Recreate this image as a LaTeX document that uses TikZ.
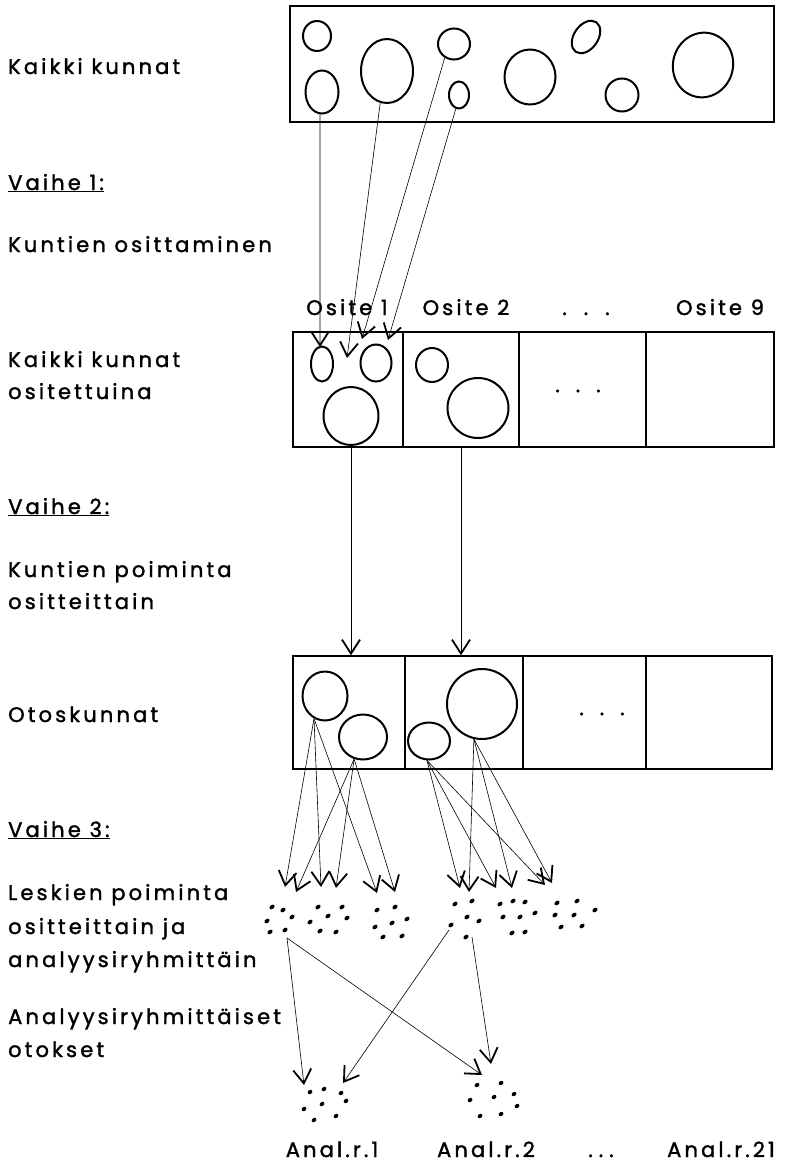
\documentclass[tikz,border=0pt]{standalone}
\usepackage{fontspec}
\setmainfont{Poppins}[LetterSpace=15,FakeBold=1.6]
\usetikzlibrary{shapes.geometric,arrows.meta}

\tikzset{
  kunta/.style={draw, ellipse, line width=2pt, inner sep=0pt},
  lokero/.style={draw, rectangle, line width=1.4pt, inner sep=0pt},
  nuoli/.style={line width=0.6pt, -{Straight Barb[length=14pt,width=18pt,line width=1.8pt]}},
  teksti/.style={anchor=base west, inner sep=0pt},
  otsikko/.style={anchor=base, inner sep=0pt},
}
\newcommand{\pisteet}[1]{.\hspace{#1}.\hspace{#1}.}

\begin{document}
\begin{tikzpicture}[x=1pt,y=-1pt,font=\fontsize{21}{33}\selectfont]
\useasboundingbox (0,0) rectangle (786,1164);

% vasen sarake
\node[teksti] (kaikki) at (8,74) {Kaikki kunnat};
\node[teksti] (vaihe1) at (8,190) {\underline{Vaihe 1:}};
\node[teksti] (osittaminen) at (8,252) {Kuntien osittaminen};
\node[teksti] (ositetut) at (8,367) {Kaikki kunnat};
\node[teksti] (ositetut2) at (8,399) {ositettuina};
\node[teksti] (vaihe2) at (8,514) {\underline{Vaihe 2:}};
\node[teksti] (poiminta) at (8,577) {Kuntien poiminta};
\node[teksti] (poiminta2) at (8,609) {ositteittain};
\node[teksti] (otos) at (8,722) {Otoskunnat};
\node[teksti] (vaihe3) at (8,837) {\underline{Vaihe 3:}};
\node[teksti] (leskiet) at (8,900) {Leskien poiminta};
\node[teksti] (leskiet2) at (8,934) {ositteittain ja};
\node[teksti] (leskiet3) at (8,967) {analyysiryhmittäin};
\node[teksti] (otokset) at (8,1024) {Analyysiryhmittäiset};
\node[teksti] (otokset2) at (8,1057) {otokset};

% kaikki kunnat
\node[lokero, minimum width=484pt, minimum height=116pt] (perus) at (532,64) {};
\node[kunta, minimum width=28pt, minimum height=30pt] (k1) at (317,36) {};
\node[kunta, minimum width=33pt, minimum height=43pt] (k2) at (322,92) {};
\node[kunta, minimum width=52pt, minimum height=64pt] (k3) at (387,71) {};
\node[kunta, minimum width=32pt, minimum height=31pt] (k4) at (454,44) {};
\node[kunta, minimum width=20pt, minimum height=27pt] (k5) at (459,95) {};
\node[kunta, minimum width=51pt, minimum height=55pt] (k6) at (530,77) {};
\node[kunta, minimum width=24pt, minimum height=36pt, rotate=-35] (k7) at (586,37) {};
\node[kunta, minimum width=33pt, minimum height=33pt] (k8) at (622,95) {};
\node[kunta, minimum width=60pt, minimum height=65pt, rotate=-15] (k9) at (703,65) {};

% ositteet
\node[otsikko] (os1) at (347,315) {Osite 1};
\node[otsikko] (os2) at (466,315) {Osite 2};
\node[otsikko] (os3) at (586,315) {\pisteet{17pt}};
\node[otsikko] (os9) at (720,315) {Osite 9};
\node[lokero, minimum width=110pt, minimum height=115pt] (o1) at (348,389.5) {};
\node[lokero, minimum width=116pt, minimum height=115pt] (o2) at (461,389.5) {};
\node[lokero, minimum width=127pt, minimum height=115pt] (o3) at (582.5,389.5) {};
\node[lokero, minimum width=128pt, minimum height=115pt] (o9) at (710,389.5) {};
\node (o3p) at (578,391) {\pisteet{16pt}};
\node[kunta, minimum width=22pt, minimum height=35pt] (m1) at (322,364) {};
\node[kunta, minimum width=31pt, minimum height=37pt] (m2) at (376,363) {};
\node[kunta, minimum width=32pt, minimum height=34pt] (m3) at (432,365) {};
\node[kunta, minimum width=55pt, minimum height=58pt] (m4) at (351,416) {};
\node[kunta, minimum width=61pt, minimum height=60pt] (m5) at (478,408) {};

\coordinate (p1) at (320,347);
\coordinate (p2) at (347,358);
\coordinate (p3) at (362,339);
\coordinate (p4) at (388,340);
\draw[nuoli] (k2.265) -- (p1);
\draw[nuoli] (k3.258) -- (p2);
\draw[nuoli] (k4.236) -- (p3);
\draw[nuoli] (k5.257) -- (p4);

% otoskunnat
\node[lokero, minimum width=112pt, minimum height=113pt] (v1) at (349,712.5) {};
\node[lokero, minimum width=118pt, minimum height=113pt] (v2) at (464,712.5) {};
\node[lokero, minimum width=123pt, minimum height=113pt] (v3) at (584.5,712.5) {};
\node[lokero, minimum width=126pt, minimum height=113pt] (v9) at (709,712.5) {};
\node (v3p) at (602,714) {\pisteet{16pt}};
\node[kunta, minimum width=45pt, minimum height=49pt] (A) at (325,696) {};
\node[kunta, minimum width=48pt, minimum height=45pt] (B) at (363,737) {};
\node[kunta, minimum width=42pt, minimum height=37pt] (C) at (429,741) {};
\node[kunta, minimum width=70pt, minimum height=70pt] (D) at (482,704) {};

\draw[nuoli] (m4.south |- o1.south) -- (m4.south |- v1.north);
\draw[nuoli] (o2.south) -- (o2.south |- v2.north);

% leskien poiminta
\coordinate (q1) at (285,887);
\coordinate (q2) at (296,892);
\coordinate (q3) at (321,887);
\coordinate (q4) at (336,888);
\coordinate (q5) at (377,893);
\coordinate (q6) at (395,892);
\coordinate (q7) at (460,888);
\coordinate (q8) at (469,892);
\coordinate (q9) at (496,888);
\coordinate (q10) at (512,888);
\coordinate (q11) at (545,885);
\coordinate (q12) at (552,883);
\foreach \t in {q1,q3,q5} \draw[nuoli] (A.244) -- (\t);
\foreach \t in {q2,q4,q6} \draw[nuoli] (B.248) -- (\t);
\foreach \t in {q7,q9,q11} \draw[nuoli] (C.264) -- (\t);
\foreach \t in {q8,q10,q12} \draw[nuoli] (D.257) -- (\t);

\foreach \x/\y in {272/907,283/910,292/917,267/921,270/932,285/930,
                   318/907,342/907,328/916,347/918,310/922,320/931,336/932,
                   377/910,395/907,407/919,392/923,375/927,383/937,402/936,
                   455/904,472/901,467/917,479/921,451/925,466/937,
                   500/904,513/901,525/902,503/917,520/917,535/913,512/933,525/932,
                   557/903,577/901,555/915,574/915,595/910,561/927,582/926}
  \fill[rotate around={35:(\x,\y)}] (\x,\y) ellipse (2.9 and 2);

% analyysiryhmat
\coordinate (r1) at (287,938);
\coordinate (r2) at (449,930);
\coordinate (r3) at (472,937);
\coordinate (s1) at (304,1085);
\coordinate (s2) at (343,1083);
\coordinate (s3) at (482,1075);
\coordinate (s4) at (491,1064);
\draw[nuoli] (r1) -- (s1);
\draw[nuoli] (r1) -- (s3);
\draw[nuoli] (r2) -- (s2);
\draw[nuoli] (r3) -- (s4);

\foreach \x/\y in {310/1092,324/1089,341/1093,304/1109,322/1104,346/1101,314/1120,336/1116,
                   477/1085,501/1083,470/1100,494/1097,514/1094,517/1106,480/1116,501/1114}
  \fill[rotate around={35:(\x,\y)}] (\x,\y) ellipse (2.6 and 2);

\node[otsikko] (ar1) at (332,1157) {Anal.r.1};
\node[otsikko] (ar2) at (486,1157) {Anal.r.2};
\node[otsikko] (ar3) at (601,1157) {\pisteet{6pt}};
\node[otsikko] (ar21) at (721,1157) {Anal.r.21};
\end{tikzpicture}
\end{document}
